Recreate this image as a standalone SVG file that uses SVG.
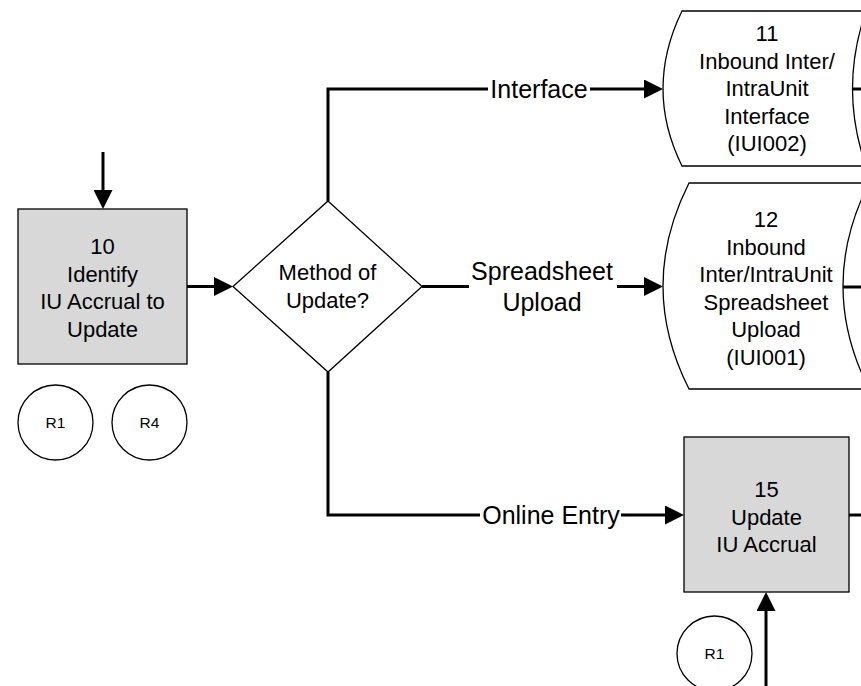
<svg xmlns="http://www.w3.org/2000/svg" width="861" height="686" viewBox="0 0 861 686">
<style>
.bg{fill:#fff}
.box{fill:#d8d8d8;stroke:#000;stroke-width:1.3}
.sh{fill:#fff;stroke:#000;stroke-width:1.3}
.conn{fill:none;stroke:#000;stroke-width:3}
.t{font-family:"Liberation Sans",Arial,sans-serif;font-size:22px;fill:#000;text-anchor:middle}
.lbl{font-family:"Liberation Sans",Arial,sans-serif;font-size:25px;fill:#000;text-anchor:middle}
.r{font-family:"Liberation Sans",Arial,sans-serif;font-size:15.5px;fill:#000;text-anchor:middle}
</style>
<defs>
<marker id="arr" viewBox="0 -9.5 19 19" refX="0" refY="0" markerWidth="19" markerHeight="19" markerUnits="userSpaceOnUse" orient="auto">
<path d="M0,-9.5 L19,0 L0,9.5 Z" fill="#000"/>
</marker>
</defs>
<rect class="bg" x="0" y="0" width="861" height="686"/>
<g id="connectors">
<path class="conn" d="M103,152 V190" marker-end="url(#arr)"/>
<path class="conn" d="M187,286.5 H214" marker-end="url(#arr)"/>
<path class="conn" d="M328,201 V89 H488"/>
<path class="conn" d="M590,89 H644" marker-end="url(#arr)"/>
<path class="conn" d="M422,286.5 H469"/>
<path class="conn" d="M617,286.5 H644" marker-end="url(#arr)"/>
<path class="conn" d="M328,372 V515 H480"/>
<path class="conn" d="M621,515 H665" marker-end="url(#arr)"/>
<path class="conn" d="M849,515 H861"/>
<path class="conn" d="M766,686 V611" marker-end="url(#arr)"/>
<path class="conn" d="M852,89 H861"/>
<path class="conn" d="M843,287 H861"/>
<text class="lbl" x="539" y="98">Interface</text>
<text class="lbl" x="542" y="280">Spreadsheet</text>
<text class="lbl" x="542" y="311">Upload</text>
<text class="lbl" x="551" y="524">Online Entry</text>
</g>
<g id="node10">
<rect class="box" x="18" y="209" width="169" height="155"/>
<text class="t" x="102.5" y="254">10</text>
<text class="t" x="102.5" y="281.5">Identify</text>
<text class="t" x="102.5" y="309">IU Accrual to</text>
<text class="t" x="102.5" y="336.5">Update</text>
</g>
<g id="decision">
<polygon class="sh" points="328,201 422,286.5 328,372 233,286.5"/>
<text class="t" x="327.5" y="280">Method of</text>
<text class="t" x="327.5" y="307.5">Update?</text>
</g>
<g id="node11">
<path class="sh" d="M682,11 L866,11 Q839,89 866,166 L682,166 Q644,89 682,11 Z"/>
<text class="t" x="767" y="41">11</text>
<text class="t" x="767" y="68.5">Inbound Inter/</text>
<text class="t" x="767" y="96">IntraUnit</text>
<text class="t" x="767" y="123.5">Interface</text>
<text class="t" x="767" y="151">(IUI002)</text>
</g>
<g id="node12">
<path class="sh" d="M689,183 L869,183 Q817,286 869,389 L689,389 Q637,286 689,183 Z"/>
<text class="t" x="766" y="227">12</text>
<text class="t" x="766" y="254.5">Inbound</text>
<text class="t" x="766" y="282">Inter/IntraUnit</text>
<text class="t" x="766" y="309.5">Spreadsheet</text>
<text class="t" x="766" y="337">Upload</text>
<text class="t" x="766" y="364.5">(IUI001)</text>
</g>
<g id="node15">
<rect class="box" x="684" y="437" width="165" height="155"/>
<text class="t" x="766.5" y="497">15</text>
<text class="t" x="766.5" y="524.5">Update</text>
<text class="t" x="766.5" y="552">IU Accrual</text>
</g>
<g id="r1a">
<circle class="sh" cx="55.5" cy="422.5" r="37.5"/>
<text class="r" x="55.5" y="428">R1</text>
</g>
<g id="r4">
<circle class="sh" cx="149.5" cy="422.5" r="37.5"/>
<text class="r" x="149.5" y="428">R4</text>
</g>
<g id="r1b">
<circle class="sh" cx="714.5" cy="653.5" r="37.5"/>
<text class="r" x="714.5" y="659">R1</text>
</g>
</svg>
